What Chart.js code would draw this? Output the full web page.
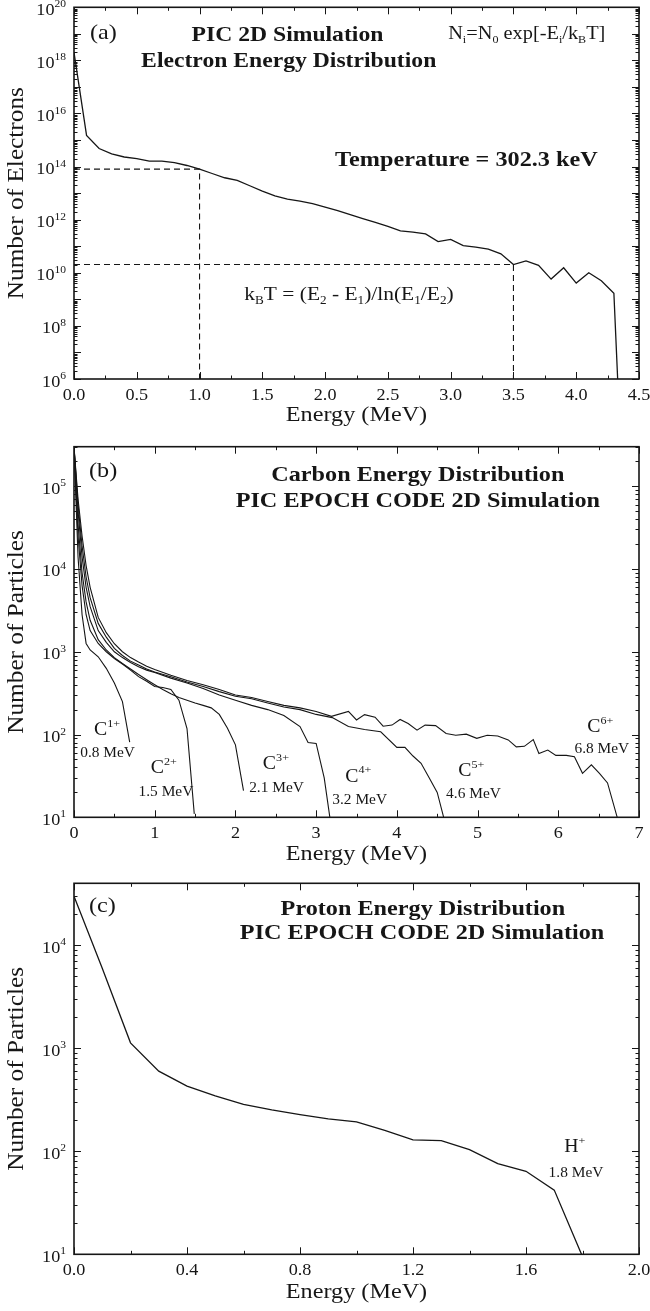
<!DOCTYPE html>
<html>
<head>
<meta charset="utf-8">
<script src="https://cdn.jsdelivr.net/npm/chart.js@4.4.1/dist/chart.umd.min.js"></script>
<style>
  body { margin: 0; background: #fff; }
  .panel { position: absolute; left: 0; width: 650px; }
</style>
</head>
<body>
<div class="panel" style="top:0;height:430px"><canvas id="electrons"></canvas></div>
<div class="panel" style="top:430px;height:440px"><canvas id="carbon"></canvas></div>
<div class="panel" style="top:870px;height:441px"><canvas id="protons"></canvas></div>
<script>
// (a) electron spectrum
const electronEnergy = [0.0, 0.1, 0.2, 0.3, 0.4, 0.5, 0.6, 0.7, 0.8, 0.9, 1.0, 1.1, 1.2, 1.3, 1.4, 1.5,
  1.6, 1.7, 1.8, 1.9, 2.0, 2.1, 2.2, 2.3, 2.4, 2.5, 2.6, 2.7, 2.8, 2.9, 3.0, 3.1, 3.2, 3.3, 3.4, 3.5,
  3.6, 3.7, 3.8, 3.9, 4.0, 4.1, 4.2, 4.3, 4.33];
const electronCount = [2.0e18, 1.5e15, 4.8e14, 3.0e14, 2.3e14, 2.0e14, 1.6e14, 1.6e14, 1.4e14, 1.1e14,
  8.0e13, 5.5e13, 3.8e13, 3.0e13, 1.9e13, 1.2e13, 7.9e12, 6.0e12, 5.0e12, 4.0e12, 3.0e12, 2.2e12,
  1.55e12, 1.1e12, 7.9e11, 5.6e11, 3.8e11, 3.4e11, 2.9e11, 1.5e11, 1.8e11, 1.05e11, 9.3e10, 7.8e10,
  5.2e10, 2.05e10, 2.8e10, 1.9e10, 5.8e9, 1.55e10, 4.1e9, 1.0e10, 5.0e9, 1.7e9, 1.0e6];
// two points used for the temperature estimate
const fitEnergy = [1.0, 3.5];
const fitCount = [8.0e13, 2.05e10];

// (b) carbon spectra, one pair of arrays per charge state
const c1Energy = [0, 0.05, 0.1, 0.15, 0.2, 0.3, 0.4, 0.5, 0.6, 0.69];
const c1Count = [3.0e5, 1.4e4, 2.8e3, 1.26e3, 1.05e3, 870, 630, 420, 250, 81];
const c2Energy = [0, 0.05, 0.1, 0.15, 0.2, 0.3, 0.4, 0.5, 0.6, 0.7, 0.8, 0.9, 1.0, 1.1, 1.2, 1.3, 1.4, 1.49];
const c2Count = [3.0e5, 2.5e4, 6.3e3, 2.8e3, 1.8e3, 1.26e3, 1.0e3, 830, 710, 600, 500, 440, 380, 370, 350, 260, 118, 11];
const c3Energy = [0, 0.05, 0.1, 0.15, 0.2, 0.3, 0.4, 0.5, 0.6, 0.7, 0.8, 0.9, 1.0, 1.1, 1.2, 1.3, 1.4, 1.5,
  1.6, 1.7, 1.8, 1.9, 2.0, 2.1];
const c3Count = [3.0e5, 3.5e4, 9.0e3, 4.0e3, 2.4e3, 1.4e3, 1.05e3, 850, 720, 620, 530, 460, 400, 350, 310,
  280, 260, 240, 225, 210, 175, 120, 75, 21];
const c4Energy = [0, 0.05, 0.1, 0.15, 0.2, 0.3, 0.4, 0.5, 0.6, 0.7, 0.8, 0.9, 1.0, 1.2, 1.4, 1.6, 1.8, 2.0,
  2.2, 2.4, 2.6, 2.8, 2.9, 3.0, 3.1, 3.17];
const c4Count = [3.0e5, 5.0e4, 1.4e4, 6.0e3, 3.5e3, 1.8e3, 1.3e3, 1.0e3, 850, 740, 660, 600, 560, 480, 420,
  360, 300, 260, 225, 200, 170, 125, 80, 78, 30, 10];
const c5Energy = [0, 0.05, 0.1, 0.15, 0.2, 0.3, 0.4, 0.5, 0.6, 0.7, 0.8, 0.9, 1.0, 1.2, 1.4, 1.6, 1.8, 2.0,
  2.2, 2.4, 2.6, 2.8, 3.0, 3.2, 3.4, 3.6, 3.8, 4.0, 4.1, 4.2, 4.3, 4.4, 4.5, 4.58];
const c5Count = [3.0e5, 6.0e4, 1.9e4, 8.0e3, 4.5e3, 2.2e3, 1.5e3, 1.1e3, 900, 770, 690, 620, 570, 500, 430,
  380, 330, 290, 270, 240, 215, 200, 175, 160, 125, 115, 108, 70, 70, 55, 45, 30, 20, 10];
const c6Energy = [0, 0.05, 0.1, 0.15, 0.2, 0.3, 0.4, 0.5, 0.6, 0.7, 0.8, 0.9, 1.0, 1.2, 1.4, 1.6, 1.8, 2.0,
  2.2, 2.4, 2.6, 2.8, 3.0, 3.19, 3.4, 3.5, 3.6, 3.73, 3.83, 3.94, 4.04, 4.14, 4.25, 4.35, 4.48, 4.61, 4.73,
  4.86, 4.99, 5.12, 5.25, 5.38, 5.48, 5.58, 5.69, 5.76, 5.87, 5.97, 6.1, 6.2, 6.3, 6.41, 6.51, 6.61, 6.73];
const c6Count = [3.0e5, 7.0e4, 2.5e4, 1.1e4, 6.0e3, 2.6e3, 1.7e3, 1.25e3, 1.0e3, 850, 750, 670, 610, 520,
  450, 400, 350, 300, 280, 250, 225, 210, 190, 166, 190, 150, 174, 162, 126, 130, 152, 136, 113, 130, 128,
  103, 98, 101, 90, 98, 96, 86, 71, 72, 87, 59, 65, 56, 56, 54, 34, 43, 34, 26, 10];
const carbonCurves = [
  [c1Energy, c1Count], [c2Energy, c2Count], [c3Energy, c3Count],
  [c4Energy, c4Count], [c5Energy, c5Count], [c6Energy, c6Count]
];

// (c) proton spectrum
const protonEnergy = [0.0, 0.1, 0.2, 0.3, 0.4, 0.5, 0.6, 0.7, 0.8, 0.9, 1.0, 1.1, 1.2, 1.3, 1.4, 1.5, 1.6, 1.7, 1.8];
const protonCount = [3.0e4, 6.0e3, 1.13e3, 600, 430, 345, 285, 252, 227, 206, 193, 160, 129, 127, 104, 76, 64, 42, 9.5];

// tick values
const electronTicksX = [0, 0.5, 1.0, 1.5, 2.0, 2.5, 3.0, 3.5, 4.0, 4.5];
const electronDecades = [6, 8, 10, 12, 14, 16, 18, 20];
const carbonTicksX = [0, 1, 2, 3, 4, 5, 6, 7];
const carbonDecades = [1, 2, 3, 4, 5];
const protonTicksX = [0.0, 0.4, 0.8, 1.2, 1.6, 2.0];
const protonDecades = [1, 2, 3, 4];

const INK = '#161616';
const SERIF = '"Liberation Serif", "Times New Roman", serif';
const STRETCH = 1.1;   // the lettering is set a little wide
const fontOf = (size, bold) => (bold ? 'bold ' : '') + size + 'px ' + SERIF;

// "N_{i}" -> subscript, "10^{5}" -> superscript
function parseRich(str) {
  const parts = [];
  const re = /([_^])\{([^}]*)\}/g;
  let last = 0, m;
  while ((m = re.exec(str))) {
    if (m.index > last) parts.push({ t: str.slice(last, m.index), s: '' });
    parts.push({ t: m[2], s: m[1] === '_' ? 'sub' : 'sup' });
    last = re.lastIndex;
  }
  if (last < str.length) parts.push({ t: str.slice(last), s: '' });
  return parts;
}

function drawRich(ctx, str, x, y, size, bold, align, small) {
  const parts = parseRich(str);
  const sm = small || Math.round(size * 0.62);
  let w = 0;
  parts.forEach(p => {
    ctx.font = fontOf(p.s ? sm : size, bold);
    p.w = ctx.measureText(p.t).width * STRETCH;
    w += p.w;
  });
  let cx = align === 'center' ? x - w / 2 : align === 'right' ? x - w : x;
  ctx.textAlign = 'left';
  ctx.textBaseline = 'alphabetic';
  parts.forEach(p => {
    ctx.font = fontOf(p.s ? sm : size, bold);
    const dy = p.s === 'sub' ? size * 0.22 : p.s === 'sup' ? -size * 0.45 : 0;
    ctx.save();
    ctx.translate(cx, y + dy);
    ctx.scale(STRETCH, 1);
    ctx.fillText(p.t, 0, 0);
    ctx.restore();
    cx += p.w;
  });
}

// frame, inward ticks on all four sides, tick labels, titles and notes
const panelDecor = {
  id: 'panelDecor',
  afterDatasetsDraw(chart, args, o) {
    const { ctx, chartArea: a, scales: { x, y } } = chart;
    ctx.save();
    ctx.strokeStyle = INK;
    ctx.fillStyle = INK;

    ctx.lineWidth = 1;
    const xTick = (v, len) => {
      const px = Math.round(x.getPixelForValue(v)) + 0.5;
      ctx.beginPath();
      ctx.moveTo(px, a.bottom); ctx.lineTo(px, a.bottom - len);
      ctx.moveTo(px, a.top); ctx.lineTo(px, a.top + len);
      ctx.stroke();
    };
    const yTick = (v, len) => {
      const py = Math.round(y.getPixelForValue(v)) + 0.5;
      ctx.beginPath();
      ctx.moveTo(a.left, py); ctx.lineTo(a.left + len, py);
      ctx.moveTo(a.right, py); ctx.lineTo(a.right - len, py);
      ctx.stroke();
    };
    o.ticksX.forEach((v, i) => {
      xTick(v, 7);
      if (i < o.ticksX.length - 1) xTick((v + o.ticksX[i + 1]) / 2, 3.5);
    });
    const e0 = Math.floor(Math.log10(y.min)), e1 = Math.ceil(Math.log10(y.max));
    for (let e = e0; e <= e1; e++) {
      for (let k = 1; k <= 9; k++) {
        const v = k * Math.pow(10, e);
        if (v < y.min * 0.999 || v > y.max * 1.001) continue;
        yTick(v, k === 1 ? 7 : 3.5);
      }
    }

    ctx.lineWidth = 1.6;
    ctx.strokeRect(a.left, a.top, a.right - a.left, a.bottom - a.top);

    // tick labels
    o.ticksX.forEach(v => {
      drawRich(ctx, v.toFixed(o.digitsX), x.getPixelForValue(v), a.bottom + 21, 16.5, false, 'center');
    });
    o.decades.forEach(e => {
      drawRich(ctx, '10^{' + e + '}', a.left - 8, y.getPixelForValue(Math.pow(10, e)) + 7.5, 16.5, false, 'right', 10.5);
    });

    // axis titles
    drawRich(ctx, 'Energy (MeV)', (a.left + a.right) / 2, a.bottom + o.xTitleGap, 22, false, 'center');
    ctx.save();
    ctx.translate(23, (a.top + a.bottom) / 2);
    ctx.rotate(-Math.PI / 2);
    drawRich(ctx, o.yTitle, 0, 0, 23, false, 'center');
    ctx.restore();

    // notes placed in data coordinates
    o.notes.forEach(n => {
      drawRich(ctx, n.text, x.getPixelForValue(n.x), y.getPixelForValue(n.y), n.size, n.bold, n.align || 'left');
    });
    ctx.restore();
  }
};

const points = (xs, ys) => xs.map((v, i) => ({ x: v, y: ys[i] }));

function makePanel(id, cfg) {
  return new Chart(document.getElementById(id), {
    type: 'scatter',
    data: { datasets: cfg.datasets },
    options: {
      responsive: true,
      maintainAspectRatio: false,
      animation: false,
      events: [],
      layout: { padding: { top: cfg.top, right: 11, left: 0, bottom: 0 } },
      elements: {
        point: { radius: 0 },
        line: { borderWidth: 1.3, borderColor: INK, tension: 0, fill: false }
      },
      plugins: {
        legend: { display: false },
        tooltip: { enabled: false },
        panelDecor: cfg.decor
      },
      scales: {
        x: {
          type: 'linear', min: cfg.xMin, max: cfg.xMax,
          grid: { display: false }, border: { display: false }, ticks: { display: false },
          afterFit: s => { s.height = cfg.bottom; }
        },
        y: {
          type: 'logarithmic', min: cfg.yMin, max: cfg.yMax,
          grid: { display: false }, border: { display: false }, ticks: { display: false },
          afterFit: s => { s.width = 74; }
        }
      }
    },
    plugins: [panelDecor]
  });
}

const curve = (xs, ys, extra) => Object.assign({
  data: points(xs, ys), showLine: true, borderColor: INK, borderWidth: 1.3, pointRadius: 0
}, extra || {});

// guide lines for the two energies used in the fit
const guide = i => curve([0, fitEnergy[i], fitEnergy[i]], [fitCount[i], fitCount[i], 1e6],
  { borderDash: [6, 4], borderWidth: 1.1 });

makePanel('electrons', {
  top: 7.3, bottom: 51, xMin: 0, xMax: 4.5, yMin: 1e6, yMax: 1e20,
  datasets: [guide(0), guide(1), curve(electronEnergy, electronCount)],
  decor: {
    ticksX: electronTicksX, digitsX: 1, decades: electronDecades, xTitleGap: 42,
    yTitle: 'Number of Electrons',
    notes: [
      { text: '(a)', x: 0.127, y: 6.2e18, size: 22 },
      { text: 'PIC 2D Simulation', x: 1.70, y: 5.5e18, size: 21.5, bold: true, align: 'center' },
      { text: 'Electron Energy Distribution', x: 1.71, y: 5.8e17, size: 21.5, bold: true, align: 'center' },
      { text: 'N_{i}=N_{0} exp[-E_{i}/k_{B}T]', x: 2.98, y: 6.2e18, size: 18.5 },
      { text: 'Temperature = 302.3 keV', x: 3.125, y: 1.07e14, size: 22, bold: true, align: 'center' },
      { text: 'k_{B}T = (E_{2} - E_{1})/ln(E_{1}/E_{2})', x: 2.19, y: 9.5e8, size: 19.5, align: 'center' }
    ]
  }
});

makePanel('carbon', {
  top: 16.7, bottom: 52.7, xMin: 0, xMax: 7, yMin: 10, yMax: 3e5,
  datasets: carbonCurves.map(c => curve(c[0], c[1], { borderWidth: 1.1 })),
  decor: {
    ticksX: carbonTicksX, digitsX: 0, decades: carbonDecades, xTitleGap: 43,
    yTitle: 'Number of Particles',
    notes: [
      { text: '(b)', x: 0.186, y: 1.28e5, size: 22 },
      { text: 'Carbon Energy Distribution', x: 4.26, y: 1.16e5, size: 22, bold: true, align: 'center' },
      { text: 'PIC EPOCH CODE 2D Simulation', x: 4.26, y: 5.6e4, size: 22, bold: true, align: 'center' },
      { text: 'C^{1+}', x: 0.247, y: 98.6, size: 18 },
      { text: '0.8 MeV', x: 0.077, y: 53, size: 14 },
      { text: 'C^{2+}', x: 0.952, y: 34, size: 18 },
      { text: '1.5 MeV', x: 0.80, y: 18, size: 14 },
      { text: 'C^{3+}', x: 2.34, y: 38, size: 18 },
      { text: '2.1 MeV', x: 2.17, y: 20.4, size: 14 },
      { text: 'C^{4+}', x: 3.36, y: 27, size: 18 },
      { text: '3.2 MeV', x: 3.20, y: 14.5, size: 14 },
      { text: 'C^{5+}', x: 4.76, y: 31.6, size: 18 },
      { text: '4.6 MeV', x: 4.61, y: 17, size: 14 },
      { text: 'C^{6+}', x: 6.36, y: 107, size: 18 },
      { text: '6.8 MeV', x: 6.2, y: 59, size: 14 }
    ]
  }
});

makePanel('protons', {
  top: 13.3, bottom: 56.7, xMin: 0, xMax: 2.0, yMin: 10, yMax: 4e4,
  datasets: [curve(protonEnergy, protonCount)],
  decor: {
    ticksX: protonTicksX, digitsX: 1, decades: protonDecades, xTitleGap: 44,
    yTitle: 'Number of Particles',
    notes: [
      { text: '(c)', x: 0.053, y: 2.1e4, size: 22 },
      { text: 'Proton Energy Distribution', x: 1.235, y: 1.98e4, size: 22, bold: true, align: 'center' },
      { text: 'PIC EPOCH CODE 2D Simulation', x: 1.232, y: 1.16e4, size: 22, bold: true, align: 'center' },
      { text: 'H^{+}', x: 1.735, y: 98, size: 18 },
      { text: '1.8 MeV', x: 1.68, y: 56, size: 14 }
    ]
  }
});
</script>
</body>
</html>
